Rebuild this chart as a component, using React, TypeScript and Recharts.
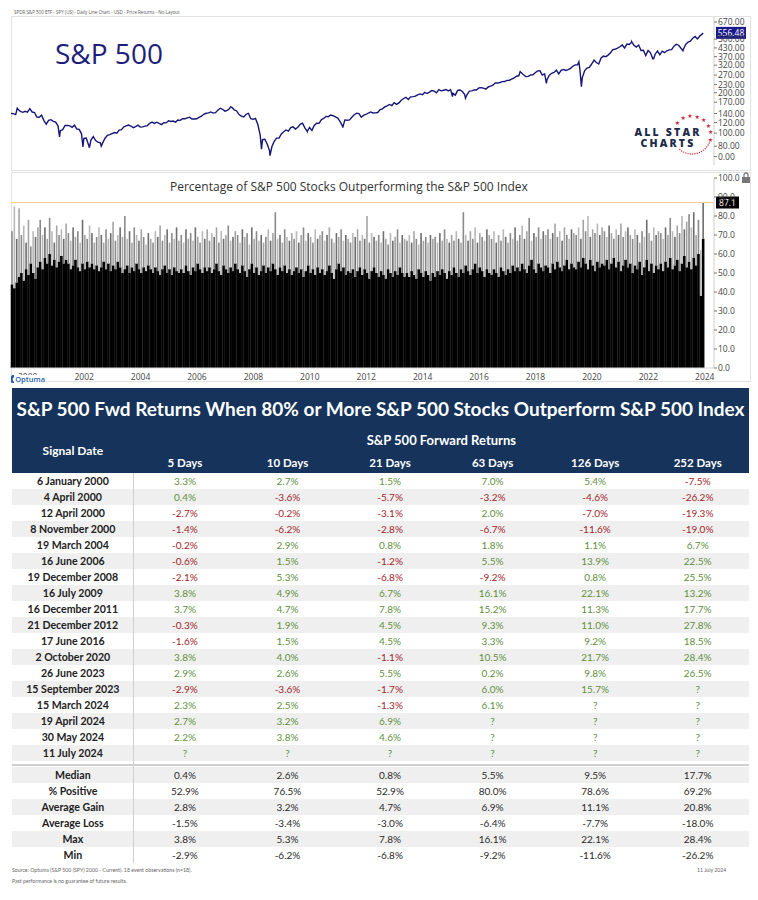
import React from 'react';
import { Bar, BarChart, Line, LineChart, ReferenceLine, XAxis, YAxis } from 'recharts';

// SPY month-end closes (log scale)
const spy2000s = [
  139.6, 137.4, 150.4, 145.1, 142.8, 145.3, 143.4, 152.2, 143.6, 142.4, 131.6, 131.2,
  136.0, 124.0, 116.7, 124.6, 126.0, 122.4, 120.9, 113.4, 104.4, 106.1, 114.1, 114.3,
  113.2, 110.5, 114.6, 107.4, 106.8, 98.9, 91.5, 91.9, 81.8, 88.9, 94.3, 88.2,
  85.9, 84.8, 84.7, 91.7, 96.4, 97.6, 99.4, 101.1, 99.9, 105.3, 106.1, 111.3,
  113.1, 115.0, 113.0, 110.0, 112.0, 114.8, 110.9, 111.3, 112.7, 113.8, 118.3, 120.9,
  118.2, 120.6, 118.1, 115.8, 119.5, 119.2, 123.7, 122.1, 123.0, 120.9, 125.3, 124.5,
  128.0, 128.0, 129.8, 131.5, 127.5, 127.3, 128.0, 131.0, 133.6, 138.1, 140.5, 141.6,
  143.8, 140.9, 142.0, 148.3, 153.3, 150.4, 145.7, 147.6, 152.6, 155.3, 148.7, 146.2,
  137.4, 133.8, 132.0, 138.3, 140.4, 128.0, 126.8, 128.8, 116.0, 96.8, 89.7, 90.2,
  82.8, 73.9, 79.5, 87.3, 91.9, 92.0, 98.8, 102.5, 105.6, 103.6, 109.9, 111.4,
];
const spy2010s = [
  107.4, 110.7, 116.4, 118.8, 109.4, 102.9, 110.3, 104.9, 114.1, 118.5, 118.2, 125.8,
  128.7, 133.2, 132.6, 136.4, 134.8, 132.0, 129.3, 121.8, 113.2, 125.5, 124.9, 125.5,
  131.3, 137.0, 140.8, 139.9, 131.5, 136.1, 137.7, 141.2, 143.9, 141.4, 141.5, 142.4,
  149.7, 151.6, 156.7, 159.7, 163.5, 160.4, 168.7, 163.7, 168.0, 175.8, 181.0, 184.7,
  178.2, 186.3, 187.0, 188.3, 192.7, 195.7, 193.1, 200.7, 197.0, 201.7, 207.2, 205.5,
  199.5, 210.7, 206.4, 208.5, 211.1, 205.9, 210.5, 197.7, 191.6, 207.9, 209.3, 203.9,
  193.7, 193.6, 205.5, 206.3, 209.8, 209.5, 217.1, 217.4, 216.3, 212.6, 220.4, 223.5,
  227.5, 236.5, 235.7, 238.1, 241.4, 241.8, 246.8, 247.5, 252.3, 257.2, 265.0, 266.9,
  281.9, 271.7, 263.2, 264.5, 270.9, 271.3, 281.3, 290.3, 290.7, 270.6, 275.7, 249.9,
  269.9, 278.7, 282.5, 294.0, 275.3, 293.0, 297.4, 292.5, 296.8, 303.3, 314.3, 321.9,
];
const spy2020s = [
  321.7, 296.3, 257.8, 290.5, 304.3, 308.4, 326.5, 349.3, 334.9, 326.5, 362.1, 373.9,
  370.1, 380.4, 396.3, 417.3, 420.0, 428.1, 438.5, 451.6, 429.1, 459.3, 455.6, 475.0,
  449.9, 436.6, 451.6, 412.0, 412.9, 377.3, 412.0, 395.2, 357.2, 386.2, 407.7, 382.4,
  406.5, 396.3, 409.4, 415.9, 417.9, 443.3, 457.8, 450.4, 427.5, 418.2, 456.4, 475.3,
  482.9, 508.1, 523.1, 502.0, 527.4, 544.2, 556.48,
];
// intra-month turning points visible on the line: [decimal year, price]
const spyTurns = [
  [2000.0, 140], [2000.22, 153], [2001.72, 94], [2002.55, 79], [2002.78, 78], [2003.2, 80],
  [2007.78, 157], [2008.88, 76], [2009.18, 68], [2010.5, 103], [2011.76, 110], [2015.65, 187],
  [2016.11, 182], [2018.05, 287], [2018.98, 234], [2020.13, 339], [2020.22, 222],
  [2022.0, 479], [2022.78, 357], [2023.82, 410],
];
const lastDate = 2024.53;
const lastPrice = 556.48;

// % of S&P 500 stocks outperforming the index, monthly: solid black level and spike tops
const low2000s = [
  44, 42, 45, 48, 50, 46, 52, 49, 55, 50, 47, 53,
  56, 52, 58, 55, 60, 54, 57, 53, 56, 59, 55, 57,
  55, 52, 54, 57, 53, 51, 55, 52, 56, 53, 55, 52,
  54, 51, 53, 56, 52, 55, 51, 54, 52, 56, 53, 50,
  52, 54, 50, 53, 51, 55, 52, 50, 53, 51, 54, 52,
  50, 53, 51, 49, 52, 54, 50, 52, 49, 53, 51, 50,
  52, 50, 54, 51, 49, 53, 51, 55, 52, 50, 53, 51,
  53, 50, 52, 55, 51, 49, 54, 52, 50, 53, 51, 55,
  52, 50, 54, 51, 48, 52, 55, 50, 53, 49, 51, 54,
  50, 53, 51, 55, 52, 49, 53, 51, 54, 50, 52, 49,
];
const low2010s = [
  51, 53, 50, 52, 48, 51, 54, 50, 52, 49, 53, 50,
  52, 49, 51, 54, 50, 47, 52, 55, 51, 53, 49, 51,
  50, 52, 48, 51, 53, 49, 52, 50, 47, 51, 53, 50,
  48, 51, 49, 47, 52, 50, 48, 51, 49, 53, 50, 48,
  50, 48, 51, 49, 47, 52, 50, 48, 51, 49, 46, 50,
  48, 51, 49, 52, 50, 47, 51, 49, 53, 50, 48, 52,
  50, 54, 51, 49, 52, 55, 50, 53, 51, 48, 52, 50,
  49, 52, 50, 48, 53, 51, 49, 52, 50, 54, 51, 53,
  51, 55, 52, 50, 54, 57, 52, 50, 55, 53, 51, 54,
  53, 50, 55, 52, 56, 53, 51, 54, 57, 52, 55, 53,
];
const low2020s = [
  52, 56, 53, 58, 55, 52, 57, 54, 51, 56, 53, 55,
  54, 57, 52, 55, 58, 53, 56, 51, 54, 57, 53, 55,
  50, 54, 52, 56, 49, 53, 57, 51, 55, 50, 54, 52,
  55, 51, 56, 53, 58, 52, 54, 57, 51, 55, 59, 53,
  56, 52, 58, 54, 60, 38, 68,
];
const high2000s = [
  72, 85, 68, 84, 70, 75, 66, 78, 64, 72, 69, 74,
  78, 70, 74, 68, 79, 72, 66, 75, 70, 73, 68, 76,
  71, 67, 74, 69, 72, 66, 78, 70, 68, 75, 71, 66,
  69, 74, 70, 66, 73, 68, 71, 77, 67, 70, 74, 69,
  80, 68, 72, 66, 74, 70, 67, 73, 69, 65, 71, 68,
  66, 72, 69, 75, 67, 70, 73, 66, 71, 68, 74, 67,
  70, 66, 73, 68, 71, 67, 74, 69, 66, 72, 68, 73,
  67, 71, 69, 74, 66, 72, 68, 70, 75, 67, 69, 72,
  70, 66, 73, 69, 71, 65, 74, 68, 72, 67, 70, 66,
  69, 73, 67, 71, 82, 68, 70, 66, 73, 69, 67, 71,
];
const high2010s = [
  68, 72, 66, 70, 74, 67, 71, 69, 66, 73, 68, 70,
  72, 67, 70, 74, 68, 66, 71, 69, 73, 67, 70, 68,
  66, 71, 69, 73, 67, 70, 68, 80, 66, 71, 69, 67,
  70, 66, 72, 68, 65, 71, 67, 69, 73, 66, 70, 68,
  67, 70, 66, 72, 68, 65, 71, 67, 69, 66, 70, 68,
  69, 66, 71, 67, 73, 68, 66, 70, 67, 72, 68, 66,
  82, 70, 67, 72, 68, 74, 66, 71, 69, 67, 73, 70,
  68, 72, 66, 70, 67, 73, 69, 66, 71, 68, 74, 67,
  70, 75, 68, 72, 79, 67, 71, 69, 74, 68, 72, 70,
  73, 68, 71, 76, 69, 72, 67, 74, 70, 68, 73, 71,
];
const high2020s = [
  70, 74, 68, 78, 72, 80, 69, 73, 71, 76, 70, 74,
  72, 69, 75, 71, 68, 73, 70, 76, 69, 72, 74, 70,
  68, 73, 70, 66, 72, 69, 78, 71, 67, 74, 70, 72,
  71, 68, 74, 70, 79, 72, 69, 75, 71, 80, 73, 77,
  81, 74, 82, 70, 78, 62, 87.1,
];
const lastPct = 87.1;

const yearTicks = [2000, 2002, 2004, 2006, 2008, 2010, 2012, 2014, 2016, 2018, 2020, 2022, 2024];
const priceTicks = [67, 80, 100, 120, 140, 170, 200, 230, 270, 320, 370, 430, 500, 670];
const pctTicks = [0, 10, 20, 30, 40, 50, 60, 70, 80, 90, 100];

// table
const signalDates = [
  '6 January 2000', '4 April 2000', '12 April 2000', '8 November 2000', '19 March 2004',
  '16 June 2006', '19 December 2008', '16 July 2009', '16 December 2011', '21 December 2012',
  '17 June 2016', '2 October 2020', '26 June 2023', '15 September 2023', '15 March 2024',
  '19 April 2024', '30 May 2024', '11 July 2024',
];
const horizons = ['5 Days', '10 Days', '21 Days', '63 Days', '126 Days', '252 Days'];
const ret5 = [3.3, 0.4, -2.7, -1.4, -0.2, -0.6, -2.1, 3.8, 3.7, -0.3, -1.6, 3.8, 2.9, -2.9, 2.3, 2.7, 2.2, null];
const ret10 = [2.7, -3.6, -0.2, -6.2, 2.9, 1.5, 5.3, 4.9, 4.7, 1.9, 1.5, 4.0, 2.6, -3.6, 2.5, 3.2, 3.8, null];
const ret21 = [1.5, -5.7, -3.1, -2.8, 0.8, -1.2, -6.8, 6.7, 7.8, 4.5, 4.5, -1.1, 5.5, -1.7, -1.3, 6.9, 4.6, null];
const ret63 = [7.0, -3.2, 2.0, -6.7, 1.8, 5.5, -9.2, 16.1, 15.2, 9.3, 3.3, 10.5, 0.2, 6.0, 6.1, null, null, null];
const ret126 = [5.4, -4.6, -7.0, -11.6, 1.1, 13.9, 0.8, 22.1, 11.3, 11.0, 9.2, 21.7, 9.8, 15.7, null, null, null, null];
const ret252 = [-7.5, -26.2, -19.3, -19.0, 6.7, 22.5, 25.5, 13.2, 17.7, 27.8, 18.5, 28.4, 26.5, null, null, null, null, null];
const statLabels = ['Median', '% Positive', 'Average Gain', 'Average Loss', 'Max', 'Min'];
const stat5 = [0.4, 52.9, 2.8, -1.5, 3.8, -2.9];
const stat10 = [2.6, 76.5, 3.2, -3.4, 5.3, -6.2];
const stat21 = [0.8, 52.9, 4.7, -3.0, 7.8, -6.8];
const stat63 = [5.5, 80.0, 6.9, -6.4, 16.1, -9.2];
const stat126 = [9.5, 78.6, 11.1, -7.7, 22.1, -11.6];
const stat252 = [17.7, 69.2, 20.8, -18.0, 28.4, -26.2];

const NAVY = '#15335b';
const GREEN = '#5f8f3e';
const RED = '#a1262b';
const CHART_FONT = '"Open Sans", sans-serif';
const TABLE_FONT = 'Lato, sans-serif';
const SPIKE_TONES = ['#8a8a8a', '#b8b8b8', '#6e6e6e', '#a4a4a4'];

const monthlyCloses = [...spy2000s, ...spy2010s, ...spy2020s];
const priceData = [
  ...monthlyCloses.map((v, i) => ({
    t: i === monthlyCloses.length - 1 ? lastDate : 2000 + (i + 1) / 12,
    price: v,
  })),
  ...spyTurns.map(([t, v]) => ({ t, price: v })),
].sort((a, b) => a.t - b.t);

const lows = [...low2000s, ...low2010s, ...low2020s];
const highs = [...high2000s, ...high2010s, ...high2020s];
const breadthData = lows.map((lo, i) => ({ t: 2000 + (i + 0.5) / 12, lo, spike: highs[i] - lo }));

const returnCols = [ret5, ret10, ret21, ret63, ret126, ret252];
const statCols = [stat5, stat10, stat21, stat63, stat126, stat252];

function PriceTag(props: any) {
  const { viewBox } = props;
  const x = viewBox.x + viewBox.width + 2;
  return (
    <g>
      <rect x={x} y={viewBox.y - 6} width={30} height={12} fill="#1a1a8c" />
      <text x={x + 15} y={viewBox.y + 3} textAnchor="middle" fontSize={8.5} fill="#fff" fontFamily={CHART_FONT}>
        {lastPrice.toFixed(2)}
      </text>
    </g>
  );
}

function PctTag(props: any) {
  const { viewBox } = props;
  const x = viewBox.x + viewBox.width + 2;
  return (
    <g>
      <rect x={x} y={viewBox.y - 6} width={23} height={12} fill="#000" />
      <text x={x + 11.5} y={viewBox.y + 3} textAnchor="middle" fontSize={8.5} fill="#fff" fontFamily={CHART_FONT}>
        {lastPct.toFixed(1)}
      </text>
    </g>
  );
}

function YearTick(props: any) {
  const { x, y, payload } = props;
  return (
    <text x={x + 7} y={y + 3.5} fontSize={8.5} fill="#444" fontFamily={CHART_FONT}>
      {payload.value}
    </text>
  );
}

function SolidBar(props: any) {
  const { x, y, width, height } = props;
  if (!height || height <= 0) return null;
  return <rect x={x - 0.3} y={y} width={width + 0.6} height={height} fill="#000" />;
}

function SpikeBar(props: any) {
  const { x, y, width, height, index } = props;
  if (!height || height <= 0) return null;
  return (
    <rect
      x={x + width / 2 - 0.8}
      y={y}
      width={1.6}
      height={height}
      fill={SPIKE_TONES[index % SPIKE_TONES.length]}
    />
  );
}

function AllStarLogo() {
  const cx = 692;
  const cy = 135;
  const r = 19;
  const stars = [-140, -118, -96, -74, -52, -30, -8, 14];
  const dots = [25, 32, 39, 46, 53, 60, 67, 74, 81, 88, 95, 102, 109, 116, 123, 130];
  const rad = (a: number) => (a * Math.PI) / 180;
  return (
    <svg width={758} height={172} style={{ position: 'absolute', left: 0, top: 0, pointerEvents: 'none' }}>
      {stars.map((a) => (
        <text key={a} x={cx + r * Math.cos(rad(a))} y={cy + r * Math.sin(rad(a)) + 2} fontSize={6} fill="#c8283c" textAnchor="middle" fontFamily="DejaVu Sans">
          ★
        </text>
      ))}
      {dots.map((a) => (
        <circle key={a} cx={cx + r * Math.cos(rad(a))} cy={cy + r * Math.sin(rad(a))} r={0.7} fill="#c8283c" />
      ))}
      <text x={668} y={136} textAnchor="middle" fontSize={10.5} fontWeight={800} letterSpacing={2.2} fill="#1d2b4c" fontFamily={CHART_FONT}>
        ALL STAR
      </text>
      <text x={668} y={147} textAnchor="middle" fontSize={10.5} fontWeight={800} letterSpacing={2.2} fill="#1d2b4c" fontFamily={CHART_FONT}>
        CHARTS
      </text>
    </svg>
  );
}

function fmtPct(v: number | null) {
  return v === null ? '?' : `${v.toFixed(1)}%`;
}

const COL_W = 102.55;
const DATE_W = 121.7;

function ReturnsTable() {
  const rowBase: React.CSSProperties = {
    position: 'absolute',
    left: 12,
    width: 737,
    height: 16,
    display: 'flex',
    alignItems: 'center',
    fontSize: 10,
  };
  return (
    <div style={{ fontFamily: TABLE_FONT }}>
      <div style={{ position: 'absolute', left: 12, top: 388, width: 737, height: 85, background: NAVY, color: '#fff' }}>
        <div style={{ position: 'absolute', left: 0, top: 8, width: 737, textAlign: 'center', fontSize: 19, fontWeight: 700, lineHeight: '26px', whiteSpace: 'nowrap' }}>
          S&amp;P 500 Fwd Returns When 80% or More S&amp;P 500 Stocks Outperform S&amp;P 500 Index
        </div>
        <div style={{ position: 'absolute', left: DATE_W, top: 44, width: 737 - DATE_W, textAlign: 'center', fontSize: 13, fontWeight: 700, lineHeight: '16px' }}>
          S&amp;P 500 Forward Returns
        </div>
        <div style={{ position: 'absolute', left: 0, top: 55, width: DATE_W, textAlign: 'center', fontSize: 12, fontWeight: 700, lineHeight: '16px' }}>
          Signal Date
        </div>
        <div style={{ position: 'absolute', left: DATE_W, top: 67, display: 'flex', lineHeight: '16px', fontSize: 11.5 }}>
          {horizons.map((h) => (
            <div key={h} style={{ width: COL_W, textAlign: 'center', fontWeight: 700 }}>
              {h}
            </div>
          ))}
        </div>
      </div>
      {signalDates.map((d, i) => (
        <div key={d} style={{ ...rowBase, top: 473 + i * 16, background: i % 2 ? '#efefef' : '#fff' }}>
          <div style={{ width: DATE_W, textAlign: 'center', fontWeight: 700, color: '#222', fontSize: 10.6 }}>{d}</div>
          {returnCols.map((col, j) => {
            const v = col[i];
            return (
              <div key={j} style={{ width: COL_W, textAlign: 'center', color: v !== null && v < 0 ? RED : GREEN }}>
                {fmtPct(v)}
              </div>
            );
          })}
        </div>
      ))}
      <div style={{ position: 'absolute', left: 12, top: 764, width: 737, height: 2, background: '#cfcfcf' }} />
      {statLabels.map((s, i) => (
        <div key={s} style={{ ...rowBase, top: 767 + i * 16, background: i % 2 ? '#fff' : '#efefef' }}>
          <div style={{ width: DATE_W, textAlign: 'center', fontWeight: 700, color: '#222', fontSize: 10.6 }}>{s}</div>
          {statCols.map((col, j) => (
            <div key={j} style={{ width: COL_W, textAlign: 'center', color: '#2a2a2a' }}>
              {fmtPct(col[i])}
            </div>
          ))}
        </div>
      ))}
      <div style={{ position: 'absolute', left: 133, top: 473, width: 1, height: 390, background: '#cfcfcf' }} />
      <div style={{ position: 'absolute', left: 12, top: 867, fontSize: 5.2, color: '#666' }}>
        Source: Optuma (S&amp;P 500 (SPY) 2000 - Current). 18 event observations (n=18).
      </div>
      <div style={{ position: 'absolute', left: 12, top: 878, fontSize: 5.2, color: '#666' }}>
        Past performance is no guarantee of future results.
      </div>
      <div style={{ position: 'absolute', left: 697, top: 867, fontSize: 5.2, color: '#666' }}>11 July 2024</div>
    </div>
  );
}

export default function App() {
  return (
    <div style={{ position: 'absolute', left: 0, top: 0, width: 758, height: 900, background: '#fff', overflow: 'hidden' }}>
      <div style={{ position: 'absolute', left: 14, top: 9, fontSize: 4.5, color: '#555', fontFamily: CHART_FONT, whiteSpace: 'nowrap' }}>
        SPDR S&amp;P 500 ETF - SPY (US) - Daily Line Chart - USD - Price Returns - No Layout
      </div>
      <div style={{ position: 'absolute', left: 11, top: 16, width: 738, height: 153, border: '1px solid #e2e2e2' }} />
      <div style={{ position: 'absolute', left: 11, top: 172, width: 738, height: 208, border: '1px solid #e2e2e2' }} />

      <div style={{ position: 'absolute', left: 0, top: 0 }}>
        <LineChart width={758} height={172} data={priceData} margin={{ top: 17, right: 8, bottom: 7, left: 11 }}>
          <XAxis dataKey="t" type="number" domain={[2000, 2024.92]} hide />
          <YAxis
            orientation="right"
            scale="log"
            domain={[58, 730]}
            allowDataOverflow
            ticks={priceTicks}
            interval={0}
            width={36}
            tickSize={3}
            tickMargin={1}
            axisLine={{ stroke: '#d0d0d0' }}
            tickLine={{ stroke: '#777' }}
            tick={{ fontSize: 8.5, fill: '#444', fontFamily: CHART_FONT }}
            tickFormatter={(v: number) => (v < 70 ? '0.00' : v.toFixed(2))}
          />
          <ReferenceLine y={lastPrice} stroke="none" label={<PriceTag />} />
          <Line type="linear" dataKey="price" stroke="#16167a" strokeWidth={1.4} dot={false} isAnimationActive={false} />
        </LineChart>
      </div>
      <div style={{ position: 'absolute', left: 55, top: 35, fontSize: 28, color: '#1e1e7a', fontFamily: CHART_FONT, lineHeight: '36px' }}>
        S&amp;P 500
      </div>
      <AllStarLogo />

      <div style={{ position: 'absolute', left: 0, top: 172 }}>
        <BarChart width={758} height={212} data={breadthData} margin={{ top: 6, right: 8, bottom: 0, left: 11 }} barCategoryGap={0}>
          <XAxis
            dataKey="t"
            type="number"
            domain={[2000, 2024.92]}
            ticks={yearTicks}
            interval={0}
            height={16}
            tickLine={false}
            axisLine={{ stroke: '#d8d8d8' }}
            tick={<YearTick />}
          />
          <YAxis
            orientation="right"
            domain={[0, 100]}
            ticks={pctTicks}
            interval={0}
            width={36}
            tickSize={3}
            tickMargin={1}
            axisLine={{ stroke: '#d0d0d0' }}
            tickLine={{ stroke: '#777' }}
            tick={{ fontSize: 8.5, fill: '#444', fontFamily: CHART_FONT }}
            tickFormatter={(v: number) => v.toFixed(1)}
          />
          <ReferenceLine y={lastPct} stroke="#f6cf90" strokeWidth={1.2} />
          <Bar dataKey="lo" stackId="b" fill="#000" shape={<SolidBar />} isAnimationActive={false} />
          <Bar dataKey="spike" stackId="b" fill="#999" shape={<SpikeBar />} isAnimationActive={false} />
          <ReferenceLine y={lastPct} stroke="none" label={<PctTag />} />
        </BarChart>
      </div>
      <div style={{ position: 'absolute', left: 170, top: 178, fontSize: 12, color: '#333', whiteSpace: 'nowrap', fontFamily: CHART_FONT }}>
        Percentage of S&amp;P 500 Stocks Outperforming the S&amp;P 500 Index
      </div>
      <svg width={14} height={12} style={{ position: 'absolute', left: 739, top: 172 }}>
        <rect x={3} y={5} width={8} height={6} fill="#777" />
        <path d="M5 5 V3 a2 2 0 0 1 4 0 V5" stroke="#777" strokeWidth={1.3} fill="none" />
      </svg>
      <div style={{ position: 'absolute', left: 11, top: 375, width: 34, height: 8, background: '#fff', display: 'flex', alignItems: 'center', fontFamily: CHART_FONT }}>
        <svg width={8} height={8}>
          <rect x={0} y={0} width={8} height={8} rx={1.5} fill="#1f5fae" />
          <circle cx={4.5} cy={4.5} r={2.1} fill="none" stroke="#fff" strokeWidth={1.3} />
        </svg>
        <span style={{ fontSize: 7.5, color: '#1f5fae', marginLeft: 1, fontWeight: 600, lineHeight: '8px' }}>Optuma</span>
      </div>

      <ReturnsTable />
    </div>
  );
}
